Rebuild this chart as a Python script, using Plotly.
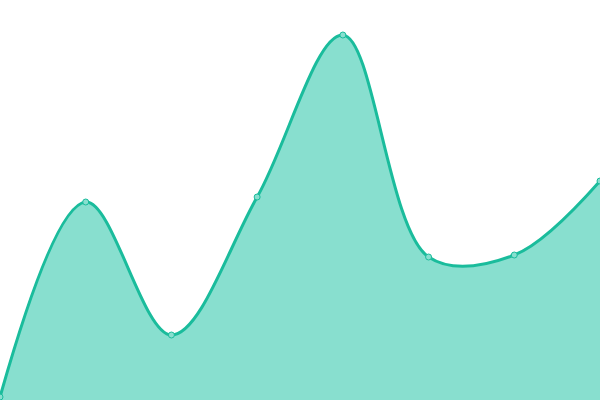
import plotly.graph_objects as go

categories = [0, 1, 2, 3, 4, 5, 6, 7]
values = [3, 198, 65, 203, 365, 143, 145, 219]

fig = go.Figure()
fig.add_trace(go.Scatter(
    x=categories, y=values, mode="lines+markers",
    line=dict(shape="spline", smoothing=1, color="#1abc9c", width=3),
    fill="tozeroy", fillcolor="#88dfcf",
    marker=dict(size=6, color="#88dfcf", line=dict(color="#1abc9c", width=1)),
    hoverinfo="skip", cliponaxis=False,
))
fig.update_layout(
    width=600, height=400, margin=dict(l=0, r=0, t=0, b=0),
    paper_bgcolor="white", plot_bgcolor="white", showlegend=False,
    xaxis=dict(visible=False, range=[0, 7], fixedrange=True),
    yaxis=dict(visible=False, range=[0, 400], fixedrange=True),
)
fig.write_html("out.html", config={"displayModeBar": False},
               post_script="document.body.style.margin='0';document.body.style.overflow='hidden';")
